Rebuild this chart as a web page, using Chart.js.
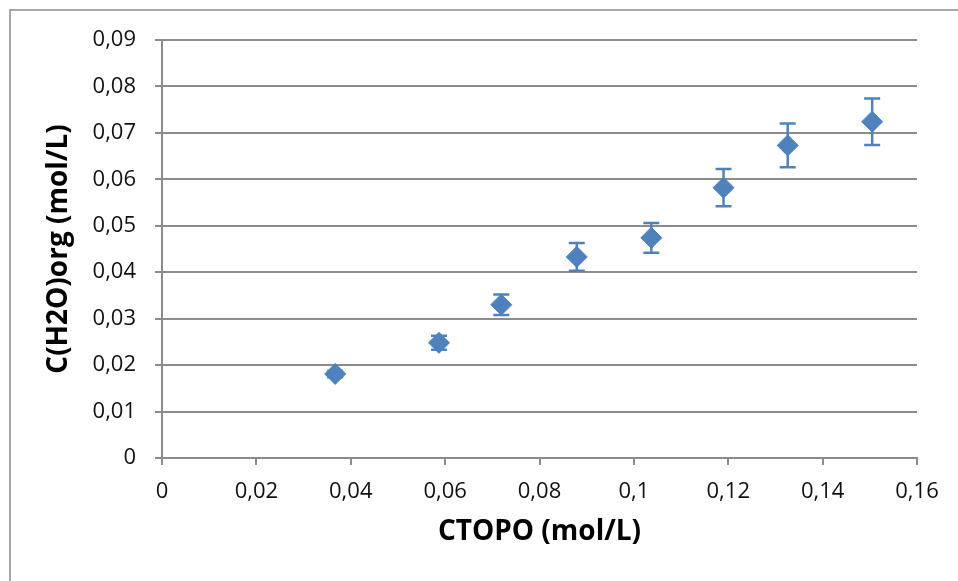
<!DOCTYPE html>
<html>
<head>
<meta charset="utf-8">
<script src="https://cdn.jsdelivr.net/npm/chart.js@4/dist/chart.umd.min.js"></script>
<style>
  body { margin: 0; background: #fff; overflow: hidden; }
  #cadre { position: absolute; left: 9px; top: 9px; width: 1000px; height: 600px; border: 2px solid #a6a6a6; box-sizing: border-box; }
  #myChart { position: absolute; left: 0; top: 0; }
</style>
</head>
<body>
<div id="cadre"></div>
<canvas id="myChart" width="958" height="581"></canvas>
<script>
// donnees
const ctopo = [0.0367, 0.0587, 0.0719, 0.0879, 0.1037, 0.119, 0.1326, 0.1505]
const cH2O = [0.0181, 0.0248, 0.033, 0.0433, 0.0474, 0.0582, 0.0673, 0.0724]
const erreur = [0.0007, 0.0015, 0.0022, 0.003, 0.0032, 0.004, 0.0047, 0.005]

const bleu = "#4f81bd"
const gris = "#8c8c8c"

function virgule(v){
  return String(Number(v.toFixed(2))).replace(".", ",")
}

// barres d'erreur verticales
const barresErreur = {
  id: "barresErreur",
  afterDatasetsDraw(chart){
    const ctx = chart.ctx
    const sx = chart.scales.x
    const sy = chart.scales.y
    ctx.save()
    ctx.strokeStyle = bleu
    ctx.lineWidth = 2.5
    for(let i = 0; i < ctopo.length; i++){
      const px = sx.getPixelForValue(ctopo[i])
      const haut = sy.getPixelForValue(cH2O[i] + erreur[i])
      const bas = sy.getPixelForValue(cH2O[i] - erreur[i])
      ctx.beginPath()
      ctx.moveTo(px, haut); ctx.lineTo(px, bas)
      ctx.moveTo(px - 8, haut); ctx.lineTo(px + 8, haut)
      ctx.moveTo(px - 8, bas); ctx.lineTo(px + 8, bas)
      ctx.stroke()
    }
    ctx.restore()
  }
}

const points = ctopo.map((x, i) => ({x: x, y: cH2O[i]}))

const graphe = new Chart("myChart", {
  type: "scatter",
  data: {
    datasets: [{
      label: "C(H2O)org",
      data: points,
      pointStyle: "rectRot",
      pointRadius: 10.5,
      pointHoverRadius: 10.5,
      backgroundColor: bleu,
      borderColor: bleu,
      borderWidth: 1
    }]
  },
  plugins: [barresErreur],
  options: {
    responsive: false,
    animation: false,
    layout: { padding: { top: 40, right: 41, left: 0, bottom: 0 } },
    plugins: { legend: { display: false }, tooltip: { enabled: false } },
    scales: {
      x: {
        type: "linear",
        min: 0, max: 0.16,
        afterFit: s => { s.height = 123 },
        ticks: { stepSize: 0.02, callback: v => virgule(v), color: "#111", padding: 14, maxRotation: 0,
          font: { family: "'Open Sans'", size: 22 } },
        grid: { drawOnChartArea: false, color: gris, lineWidth: 2, tickLength: 7 },
        border: { color: gris, width: 2 },
        title: { display: true, text: "CTOPO (mol/L)", color: "#000", padding: { bottom: 32 },
          font: { family: "'Open Sans'", size: 28, weight: "bold" } }
      },
      y: {
        min: 0, max: 0.09,
        afterFit: s => { s.width = 162 },
        ticks: { stepSize: 0.01, callback: v => virgule(v), color: "#111", padding: 19,
          font: { family: "'Open Sans'", size: 22 } },
        grid: { color: gris, lineWidth: 2, tickLength: 7 },
        border: { color: gris, width: 2 },
        title: { display: true, text: "C(H2O)org (mol/L)", color: "#000", padding: { top: 42 },
          font: { family: "'Open Sans'", size: 28, weight: "bold" } }
      }
    }
  }
})
</script>
</body>
</html>
